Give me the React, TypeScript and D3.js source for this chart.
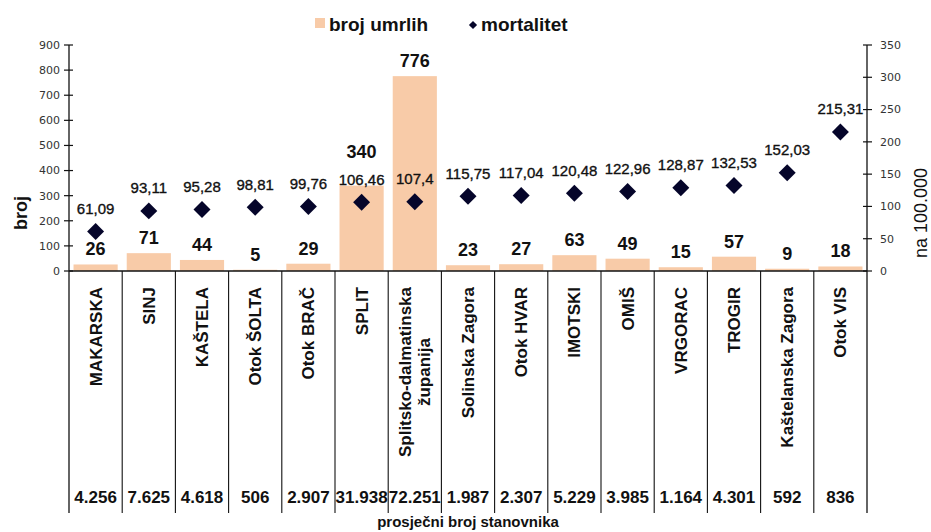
import React from "react";
import * as d3 from "d3";

const categories: string[] = [
  "MAKARSKA",
  "SINJ",
  "KAŠTELA",
  "Otok ŠOLTA",
  "Otok BRAČ",
  "SPLIT",
  "Splitsko-dalmatinska\nžupanija",
  "Solinska Zagora",
  "Otok HVAR",
  "IMOTSKI",
  "OMIŠ",
  "VRGORAC",
  "TROGIR",
  "Kaštelanska Zagora",
  "Otok VIS",
];
const deaths: number[] = [26, 71, 44, 5, 29, 340, 776, 23, 27, 63, 49, 15, 57, 9, 18];
const mortality: number[] = [
  61.09, 93.11, 95.28, 98.81, 99.76, 106.46, 107.4, 115.75, 117.04, 120.48, 122.96, 128.87,
  132.53, 152.03, 215.31,
];
const population: number[] = [
  4256, 7625, 4618, 506, 2907, 31938, 72251, 1987, 2307, 5229, 3985, 1164, 4301, 592, 836,
];
const leftTicks: number[] = [0, 100, 200, 300, 400, 500, 600, 700, 800, 900];
const rightTicks: number[] = [0, 50, 100, 150, 200, 250, 300, 350];

const W = 931;
const H = 532;
const X0 = 69;
const X1 = 867;
const YB = 271;
const YT = 45;
const YBOT = 513;
const FONT = "'Liberation Sans', Arial, sans-serif";
const BAR = "#F8CBA8";
const MARK = "#05052a";

const hr = d3.formatLocale({
  decimal: ",",
  thousands: ".",
  grouping: [3],
  currency: ["", ""],
});
const popFmt = hr.format(",");
const mortFmt = (v: number) => String(v).replace(".", ",");

function measure(text: string, font: string): number {
  const c = document.createElement("canvas").getContext("2d");
  if (!c) return text.length * 9;
  c.font = font;
  return c.measureText(text).width;
}

export default function App() {
  const x = d3.scaleBand<string>().domain(categories).range([X0, X1]).paddingInner(0).paddingOuter(0);
  const yL = d3.scaleLinear().domain([0, 900]).range([YB, YT]);
  const yR = d3.scaleLinear().domain([0, 350]).range([YB, YT]);
  const bw = x.bandwidth();
  const barW = bw * 0.83;
  const diamond = d3.symbol().type(d3.symbolSquare).size(144)() as string;
  const legendDiamond = d3.symbol().type(d3.symbolSquare).size(34)() as string;
  const catFont = `bold 17px "Liberation Sans"`;

  return (
    <svg
      width={W}
      height={H}
      style={{ position: "absolute", left: 0, top: 0, background: "#fff" }}
      fontFamily={FONT}
    >
      <rect x={0} y={0} width={W} height={H} fill="#fff" />
      {/* legend */}
      <rect x={315} y={18} width={10} height={10} fill={BAR} />
      <text x={329} y={31} fontSize={19} fontWeight="bold" fill="#111">
        broj umrlih
      </text>
      <path d={legendDiamond} transform="translate(473,25) rotate(45)" fill={MARK} />
      <text x={481} y={31} fontSize={19} fontWeight="bold" fill="#111">
        mortalitet
      </text>

      {/* bars */}
      {categories.map((c, i) => (
        <rect
          key={"b" + c}
          x={(x(c) as number) + (bw - barW) / 2}
          y={yL(deaths[i])}
          width={barW}
          height={YB - yL(deaths[i])}
          fill={BAR}
        />
      ))}

      {/* axes lines */}
      <line x1={X0} x2={X1} y1={YB} y2={YB} stroke="#111" strokeWidth={1.3} />
      <line x1={X0} x2={X0} y1={YT} y2={YBOT} stroke="#111" strokeWidth={1.3} />
      <line x1={X1} x2={X1} y1={YT} y2={YBOT} stroke="#111" strokeWidth={1.3} />
      {categories.slice(1).map((c) => (
        <line
          key={"s" + c}
          x1={x(c) as number}
          x2={x(c) as number}
          y1={YB}
          y2={YBOT}
          stroke="#111"
          strokeWidth={1.1}
        />
      ))}

      {/* left ticks */}
      {leftTicks.map((t) => (
        <g key={"lt" + t}>
          <line x1={X0 - 5} x2={X0 + 4} y1={yL(t)} y2={yL(t)} stroke="#111" strokeWidth={1.2} />
          <text
            x={60}
            y={yL(t)}
            dy="0.35em"
            textAnchor="end"
            fontSize={11}
            fontFamily="'DejaVu Sans', sans-serif"
            fill="#333"
          >
            {t}
          </text>
        </g>
      ))}
      {/* right ticks */}
      {rightTicks.map((t) => (
        <g key={"rt" + t}>
          <line x1={X1 - 4} x2={X1 + 5} y1={yR(t)} y2={yR(t)} stroke="#111" strokeWidth={1.2} />
          <text
            x={880}
            y={yR(t)}
            dy="0.35em"
            textAnchor="start"
            fontSize={11}
            fontFamily="'DejaVu Sans', sans-serif"
            fill="#333"
          >
            {t}
          </text>
        </g>
      ))}

      {/* axis titles */}
      <text
        transform="translate(27,213) rotate(-90)"
        textAnchor="middle"
        fontSize={18}
        fontWeight="bold"
        fill="#111"
      >
        broj
      </text>
      <text
        transform="translate(927,213) rotate(-90)"
        textAnchor="middle"
        fontSize={18}
        fill="#111"
      >
        na 100.000
      </text>

      {/* markers and labels */}
      {categories.map((c, i) => {
        const cx = (x(c) as number) + bw / 2;
        const my = yR(mortality[i]);
        const mLabelY = my - 17.5;
        let bLabelY = yL(deaths[i]) - 9;
        if (Math.abs(bLabelY - mLabelY) < 18) bLabelY = mLabelY - 27;
        return (
          <g key={"m" + c}>
            <path d={diamond} transform={`translate(${cx},${my}) rotate(45)`} fill={MARK} />
            <text
              x={cx}
              y={mLabelY}
              textAnchor="middle"
              fontSize={15}
              fill="#111"
              stroke="#111"
              strokeWidth={0.35}
            >
              {mortFmt(mortality[i])}
            </text>
            <text x={cx} y={bLabelY} textAnchor="middle" fontSize={18} fontWeight="bold" fill="#111">
              {deaths[i]}
            </text>
          </g>
        );
      })}

      {/* category labels */}
      {categories.map((c) => {
        const lines = c.split("\n");
        const cx = (x(c) as number) + bw / 2;
        const lens = lines.map((l) => measure(l, catFont));
        const maxLen = Math.max(...lens);
        const cy = 287 + maxLen / 2;
        const n = lines.length;
        return (
          <g key={"c" + c}>
            {lines.map((l, j) => (
              <text
                key={j}
                transform={`translate(${cx + 6 + (j - (n - 1) / 2) * 19},${cy}) rotate(-90)`}
                textAnchor="middle"
                fontSize={17}
                fontWeight="bold"
                fill="#111"
              >
                {l}
              </text>
            ))}
          </g>
        );
      })}

      {/* population row */}
      {categories.map((c, i) => (
        <text
          key={"p" + c}
          x={(x(c) as number) + bw / 2}
          y={503}
          textAnchor="middle"
          fontSize={17}
          fontWeight="bold"
          fill="#111"
        >
          {popFmt(population[i])}
        </text>
      ))}

      <text x={(X0 + X1) / 2} y={527} textAnchor="middle" fontSize={15} fontWeight="bold" fill="#111">
        prosječni broj stanovnika
      </text>
    </svg>
  );
}
